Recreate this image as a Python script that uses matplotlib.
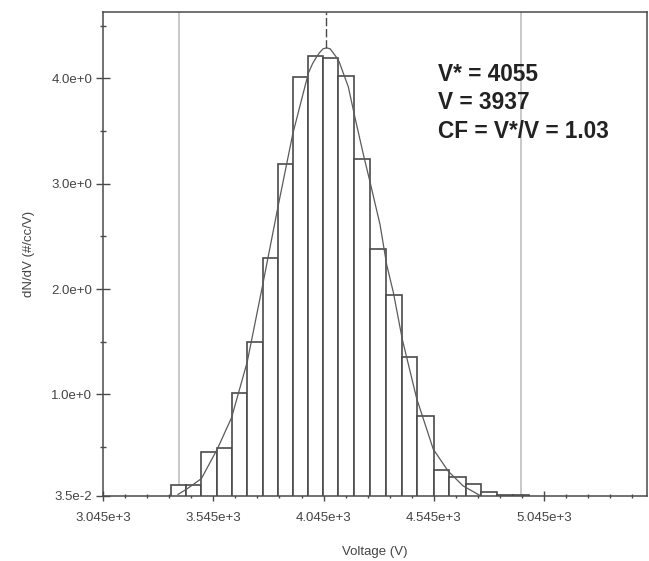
import matplotlib
matplotlib.use("Agg")
import matplotlib.pyplot as plt
import numpy as np

plt.rcParams['font.family'] = ['Liberation Sans', 'DejaVu Sans']

# histogram bins (left edges + last right edge, volts)
bin_edges = [3352, 3421, 3489, 3560, 3628, 3698, 3769, 3838, 3906, 3974, 4042, 4112,
             4183, 4255, 4326, 4399, 4468, 4545, 4613, 4689, 4757, 4831, 4904, 4976]
bin_heights = [0.14, 0.14, 0.45, 0.49, 1.01, 1.50, 2.29, 3.19, 4.01, 4.21, 4.19, 4.02,
               3.23, 2.38, 1.94, 1.35, 0.79, 0.28, 0.215, 0.15, 0.07, 0.045, 0.04]

# fitted curve, points
curve_v = [3385, 3424, 3491, 3563, 3628, 3699, 3768, 3840, 3905, 3976, 3995, 4015,
           4029, 4042, 4059, 4075, 4089, 4100, 4115, 4157, 4187, 4225, 4255, 4301,
           4331, 4361, 4402, 4467, 4542, 4610, 4678, 4754]
curve_y = [0.05, 0.10, 0.20, 0.48, 0.78, 1.31, 2.03, 2.80, 3.47, 4.05, 4.14, 4.21,
           4.25, 4.28, 4.29, 4.28, 4.24, 4.21, 4.16, 3.92, 3.63, 3.28, 3.02, 2.61,
           2.23, 1.97, 1.52, 0.96, 0.48, 0.27, 0.13, 0.04]

v_star = 4055
v_low, v_high = 3389, 4940
x_ticks = [3045, 3545, 4045, 4545, 5045]
y_ticks = [0.035, 1.0, 2.0, 3.0, 4.0]
y_ticklabels = ["3.5e-2", "1.0e+0", "2.0e+0", "3.0e+0", "4.0e+0"]
info_lines = ["V* = 4055", "V = 3937", "CF = V*/V = 1.03"]

fig = plt.figure(figsize=(6.49, 5.61), dpi=100)
ax = fig.add_axes([103 / 649, 1 - 496 / 561, (647 - 103) / 649, (496 - 12) / 561])

dark = "#4a4a4a"
ax.axvline(v_low, color="#c4c4c4", lw=1.3, zorder=1)
ax.axvline(v_high, color="#c4c4c4", lw=1.3, zorder=1)

widths = np.diff(bin_edges)
ax.bar(bin_edges[:-1], bin_heights, width=widths, align="edge", facecolor="white",
       edgecolor=dark, linewidth=1.2, zorder=2)
ax.plot(curve_v, curve_y, color="#5a5a5a", lw=0.9, zorder=3)
ax.plot([v_star, v_star], [max(curve_y), 4.63], color=dark, lw=1.0,
        linestyle=(0, (6, 2)), zorder=3)

ax.set_xlim(3045, 5511)
ax.set_ylim(0.035, 4.63)
ax.set_xticks(x_ticks)
ax.set_xticklabels([f"{t / 1000:.3f}e+3" for t in x_ticks])
ax.set_xticks(np.arange(3145, 5511, 100), minor=True)
ax.set_yticks(y_ticks)
ax.set_yticklabels(y_ticklabels)
ax.set_yticks([0.5, 1.5, 2.5, 3.5, 4.5], minor=True)

ax.tick_params(axis="x", which="major", direction="inout", length=7, width=1.0,
               color=dark, labelsize=9.5, labelcolor="#444444", pad=8)
ax.tick_params(axis="x", which="minor", direction="inout", length=3.5, width=1.0, color=dark)
ax.tick_params(axis="y", which="major", direction="inout", length=9.5, width=1.0,
               color=dark, labelsize=9.5, labelcolor="#444444", pad=3)
ax.tick_params(axis="y", which="minor", direction="inout", length=5, width=1.0, color=dark)

for s in ax.spines.values():
    s.set_color(dark)
    s.set_linewidth(1.1)

ax.set_xlabel("Voltage (V)", fontsize=9.5, color="#444444", labelpad=16)
ax.set_ylabel("dN/dV (#/cc/V)", fontsize=9.5, color="#444444", labelpad=12)

ax.text(0.616, 0.895, "\n".join(info_lines), transform=ax.transAxes, fontsize=16.3,
        fontweight="bold", color="#222222", va="top", ha="left", linespacing=1.3)

fig.savefig("out.png", dpi=100)
